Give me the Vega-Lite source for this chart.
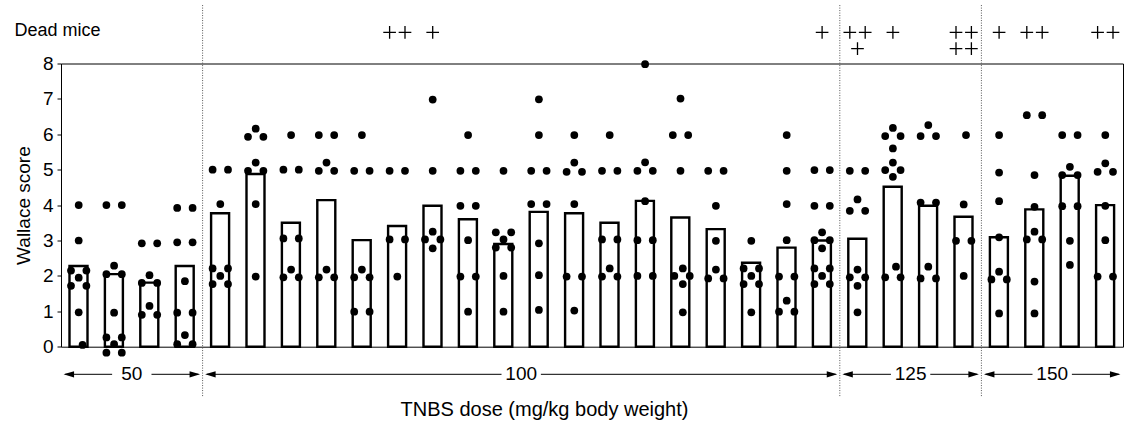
{
  "$schema": "https://vega.github.io/schema/vega-lite/v6.json",
  "width": 1062,
  "height": 283.2,
  "autosize": {"type": "none"},
  "padding": {"left": 61, "top": 63.5, "right": 7, "bottom": 76.3},
  "title": {"text": "Dead mice", "anchor": "start", "frame": "bounds", "fontSize": 18, "fontWeight": "normal", "font": "Liberation Sans", "offset": -35, "color": "black"},
  "config": {
    "view": {"stroke": "black", "strokeWidth": 1},
    "font": "Liberation Sans",
    "axisX": {"labels": false, "ticks": false, "domain": false, "grid": false, "titleFontSize": 20, "titleFontWeight": "normal", "titlePadding": 53, "titleX": 483, "titleColor": "black"},
    "axisY": {"values": [0, 1, 2, 3, 4, 5, 6, 7, 8], "domain": false, "grid": false, "tickSize": 4, "tickColor": "black", "labelFontSize": 19, "labelColor": "black", "labelPadding": 4, "titleFontSize": 19, "titleFontWeight": "normal", "titleColor": "black", "titlePadding": 9}
  },
  "datasets": {
    "bars": [
      {"bar": 1, "mean": 2.28}, {"bar": 2, "mean": 2.05}, {"bar": 3, "mean": 1.81}, {"bar": 4, "mean": 2.28},
      {"bar": 5, "mean": 3.77}, {"bar": 6, "mean": 4.88}, {"bar": 7, "mean": 3.5}, {"bar": 8, "mean": 4.14},
      {"bar": 9, "mean": 3.01}, {"bar": 10, "mean": 3.41}, {"bar": 11, "mean": 3.98}, {"bar": 12, "mean": 3.6},
      {"bar": 13, "mean": 2.9}, {"bar": 14, "mean": 3.81}, {"bar": 15, "mean": 3.77}, {"bar": 16, "mean": 3.5},
      {"bar": 17, "mean": 4.12}, {"bar": 18, "mean": 3.65}, {"bar": 19, "mean": 3.32}, {"bar": 20, "mean": 2.37},
      {"bar": 21, "mean": 2.8}, {"bar": 22, "mean": 3.0}, {"bar": 23, "mean": 3.05}, {"bar": 24, "mean": 4.52},
      {"bar": 25, "mean": 3.98}, {"bar": 26, "mean": 3.67}, {"bar": 27, "mean": 3.09}, {"bar": 28, "mean": 3.88},
      {"bar": 29, "mean": 4.83}, {"bar": 30, "mean": 4.0}
    ],
    "dots": [
      {"bar":1,"score":4,"slot":0},{"bar":1,"score":3,"slot":0},{"bar":1,"score":2.15,"slot":-1},{"bar":1,"score":2.15,"slot":1},{"bar":1,"score":1.95,"slot":0},{"bar":1,"score":1.72,"slot":-1},{"bar":1,"score":1.72,"slot":1},{"bar":1,"score":0.97,"slot":0},{"bar":1,"score":0.05,"slot":0.5},
      {"bar":2,"score":4,"slot":-1},{"bar":2,"score":4,"slot":1},{"bar":2,"score":2.29,"slot":0},{"bar":2,"score":2.05,"slot":-1},{"bar":2,"score":2.05,"slot":1},{"bar":2,"score":0.96,"slot":0},{"bar":2,"score":0.26,"slot":-1},{"bar":2,"score":0.26,"slot":1},{"bar":2,"score":0.07,"slot":0},{"bar":2,"score":-0.17,"slot":-1},{"bar":2,"score":-0.17,"slot":1},
      {"bar":3,"score":2.92,"slot":-1},{"bar":3,"score":2.92,"slot":1},{"bar":3,"score":2.02,"slot":0},{"bar":3,"score":1.8,"slot":-1},{"bar":3,"score":1.8,"slot":1},{"bar":3,"score":1.15,"slot":0},{"bar":3,"score":0.9,"slot":-1},{"bar":3,"score":0.9,"slot":1},
      {"bar":4,"score":3.92,"slot":-1},{"bar":4,"score":3.92,"slot":1},{"bar":4,"score":2.95,"slot":-1},{"bar":4,"score":2.95,"slot":1},{"bar":4,"score":1.85,"slot":0},{"bar":4,"score":0.96,"slot":-1},{"bar":4,"score":0.96,"slot":1},{"bar":4,"score":0.33,"slot":0},{"bar":4,"score":0.07,"slot":-1},{"bar":4,"score":0.07,"slot":1},
      {"bar":5,"score":5,"slot":-1},{"bar":5,"score":5,"slot":1},{"bar":5,"score":4.03,"slot":0},{"bar":5,"score":2.21,"slot":-1},{"bar":5,"score":2.21,"slot":1},{"bar":5,"score":2,"slot":0},{"bar":5,"score":1.77,"slot":-1},{"bar":5,"score":1.77,"slot":1},
      {"bar":6,"score":6.16,"slot":0},{"bar":6,"score":5.93,"slot":-1},{"bar":6,"score":5.93,"slot":1},{"bar":6,"score":5.2,"slot":0},{"bar":6,"score":4.97,"slot":-1},{"bar":6,"score":4.97,"slot":1},{"bar":6,"score":4.03,"slot":0},{"bar":6,"score":1.98,"slot":0},
      {"bar":7,"score":5.98,"slot":0},{"bar":7,"score":5,"slot":-1},{"bar":7,"score":5,"slot":1},{"bar":7,"score":3.06,"slot":-1},{"bar":7,"score":3.06,"slot":1},{"bar":7,"score":2.18,"slot":0},{"bar":7,"score":1.96,"slot":-1},{"bar":7,"score":1.96,"slot":1},
      {"bar":8,"score":5.98,"slot":-1},{"bar":8,"score":5.98,"slot":1},{"bar":8,"score":5.2,"slot":0},{"bar":8,"score":4.97,"slot":-1},{"bar":8,"score":4.97,"slot":1},{"bar":8,"score":2.18,"slot":0},{"bar":8,"score":1.96,"slot":-1},{"bar":8,"score":1.96,"slot":1},
      {"bar":9,"score":5.98,"slot":0},{"bar":9,"score":4.97,"slot":-1},{"bar":9,"score":4.97,"slot":1},{"bar":9,"score":2.18,"slot":0},{"bar":9,"score":1.96,"slot":-1},{"bar":9,"score":1.96,"slot":1},{"bar":9,"score":0.99,"slot":-1},{"bar":9,"score":0.99,"slot":1},
      {"bar":10,"score":4.97,"slot":-1},{"bar":10,"score":4.97,"slot":1},{"bar":10,"score":3.03,"slot":-1},{"bar":10,"score":3.03,"slot":1},{"bar":10,"score":1.98,"slot":0},
      {"bar":11,"score":6.98,"slot":0},{"bar":11,"score":4.97,"slot":0},{"bar":11,"score":3.25,"slot":0},{"bar":11,"score":3.03,"slot":-1},{"bar":11,"score":3.03,"slot":1},{"bar":11,"score":2.78,"slot":0},
      {"bar":12,"score":5.98,"slot":0},{"bar":12,"score":4.97,"slot":-1},{"bar":12,"score":4.97,"slot":1},{"bar":12,"score":3.98,"slot":-1},{"bar":12,"score":3.98,"slot":1},{"bar":12,"score":3.01,"slot":0},{"bar":12,"score":1.98,"slot":-1},{"bar":12,"score":1.98,"slot":1},{"bar":12,"score":0.99,"slot":0},
      {"bar":13,"score":4.97,"slot":0},{"bar":13,"score":3.23,"slot":-1},{"bar":13,"score":3.23,"slot":1},{"bar":13,"score":3.03,"slot":0},{"bar":13,"score":2.8,"slot":-1},{"bar":13,"score":2.8,"slot":1},{"bar":13,"score":2,"slot":0},{"bar":13,"score":0.99,"slot":0},
      {"bar":14,"score":6.99,"slot":0},{"bar":14,"score":5.98,"slot":0},{"bar":14,"score":4.97,"slot":-1},{"bar":14,"score":4.97,"slot":1},{"bar":14,"score":4.03,"slot":-1},{"bar":14,"score":4.03,"slot":1},{"bar":14,"score":2.92,"slot":0},{"bar":14,"score":2.02,"slot":0},{"bar":14,"score":1.04,"slot":0},
      {"bar":15,"score":5.98,"slot":0},{"bar":15,"score":5.2,"slot":0},{"bar":15,"score":4.94,"slot":-1},{"bar":15,"score":4.94,"slot":1},{"bar":15,"score":4.03,"slot":0},{"bar":15,"score":1.98,"slot":-1},{"bar":15,"score":1.98,"slot":1},{"bar":15,"score":1.02,"slot":0},
      {"bar":16,"score":5.98,"slot":0},{"bar":16,"score":4.97,"slot":-1},{"bar":16,"score":4.97,"slot":1},{"bar":16,"score":3.03,"slot":-1},{"bar":16,"score":3.03,"slot":1},{"bar":16,"score":2.21,"slot":0},{"bar":16,"score":1.98,"slot":-1},{"bar":16,"score":1.98,"slot":1},
      {"bar":17,"score":7.98,"slot":0},{"bar":17,"score":5.21,"slot":0},{"bar":17,"score":4.97,"slot":-1},{"bar":17,"score":4.97,"slot":1},{"bar":17,"score":4.11,"slot":0},{"bar":17,"score":3.01,"slot":-1},{"bar":17,"score":3.01,"slot":1},{"bar":17,"score":2,"slot":-1},{"bar":17,"score":2,"slot":1},
      {"bar":18,"score":7.01,"slot":0},{"bar":18,"score":5.98,"slot":-1},{"bar":18,"score":5.98,"slot":1},{"bar":18,"score":4.97,"slot":0},{"bar":18,"score":2.21,"slot":0.3},{"bar":18,"score":2,"slot":-0.8},{"bar":18,"score":2,"slot":1.2},{"bar":18,"score":1.77,"slot":0.3},{"bar":18,"score":0.97,"slot":0.3},
      {"bar":19,"score":4.97,"slot":-1},{"bar":19,"score":4.97,"slot":1},{"bar":19,"score":3.98,"slot":0},{"bar":19,"score":2.99,"slot":0},{"bar":19,"score":2.18,"slot":0},{"bar":19,"score":1.93,"slot":-1},{"bar":19,"score":1.93,"slot":1},
      {"bar":20,"score":2.99,"slot":0},{"bar":20,"score":2.21,"slot":-1},{"bar":20,"score":2.21,"slot":1},{"bar":20,"score":2,"slot":0},{"bar":20,"score":1.77,"slot":-1},{"bar":20,"score":1.77,"slot":1},{"bar":20,"score":0.97,"slot":0},
      {"bar":21,"score":5.98,"slot":0},{"bar":21,"score":4.97,"slot":0},{"bar":21,"score":4.03,"slot":0},{"bar":21,"score":3.01,"slot":0},{"bar":21,"score":1.98,"slot":-1},{"bar":21,"score":1.98,"slot":1},{"bar":21,"score":1.3,"slot":0},{"bar":21,"score":0.99,"slot":-1},{"bar":21,"score":0.99,"slot":1},
      {"bar":22,"score":4.99,"slot":-1},{"bar":22,"score":4.99,"slot":1},{"bar":22,"score":3.98,"slot":-1},{"bar":22,"score":3.98,"slot":1},{"bar":22,"score":3.23,"slot":0},{"bar":22,"score":3.01,"slot":-1},{"bar":22,"score":3.01,"slot":1},{"bar":22,"score":2.78,"slot":0},{"bar":22,"score":2.21,"slot":-1},{"bar":22,"score":2.21,"slot":1},{"bar":22,"score":2,"slot":0},{"bar":22,"score":1.77,"slot":-1},{"bar":22,"score":1.77,"slot":1},
      {"bar":23,"score":4.97,"slot":-1},{"bar":23,"score":4.97,"slot":1},{"bar":23,"score":4.16,"slot":0},{"bar":23,"score":3.84,"slot":-1},{"bar":23,"score":3.84,"slot":1},{"bar":23,"score":2.18,"slot":0},{"bar":23,"score":1.96,"slot":-1},{"bar":23,"score":1.96,"slot":1},{"bar":23,"score":1.72,"slot":0},{"bar":23,"score":0.97,"slot":0},
      {"bar":24,"score":6.18,"slot":0},{"bar":24,"score":5.95,"slot":-1},{"bar":24,"score":5.95,"slot":1},{"bar":24,"score":5.6,"slot":0},{"bar":24,"score":5.2,"slot":0},{"bar":24,"score":4.99,"slot":-1},{"bar":24,"score":4.99,"slot":1},{"bar":24,"score":4.8,"slot":0},{"bar":24,"score":2.26,"slot":0.4},{"bar":24,"score":1.96,"slot":-1},{"bar":24,"score":1.96,"slot":1},
      {"bar":25,"score":6.26,"slot":0},{"bar":25,"score":5.95,"slot":-1},{"bar":25,"score":5.95,"slot":1},{"bar":25,"score":4.07,"slot":-1},{"bar":25,"score":4.07,"slot":1},{"bar":25,"score":2.26,"slot":0},{"bar":25,"score":1.93,"slot":-1},{"bar":25,"score":1.93,"slot":1},
      {"bar":26,"score":5.98,"slot":0.3},{"bar":26,"score":4.02,"slot":0},{"bar":26,"score":2.99,"slot":-1},{"bar":26,"score":2.99,"slot":1},{"bar":26,"score":2,"slot":0},
      {"bar":27,"score":5.98,"slot":0},{"bar":27,"score":4.92,"slot":0},{"bar":27,"score":4.11,"slot":0},{"bar":27,"score":3.09,"slot":0},{"bar":27,"score":2.12,"slot":0},{"bar":27,"score":1.9,"slot":-1},{"bar":27,"score":1.9,"slot":1},{"bar":27,"score":0.94,"slot":0},
      {"bar":28,"score":6.54,"slot":-1},{"bar":28,"score":6.54,"slot":1},{"bar":28,"score":4.85,"slot":0},{"bar":28,"score":3.95,"slot":0},{"bar":28,"score":3.25,"slot":0},{"bar":28,"score":3.03,"slot":-1},{"bar":28,"score":3.03,"slot":1},{"bar":28,"score":1.84,"slot":0},{"bar":28,"score":0.94,"slot":0},
      {"bar":29,"score":5.98,"slot":-1},{"bar":29,"score":5.98,"slot":1},{"bar":29,"score":5.08,"slot":0},{"bar":29,"score":4.85,"slot":-1},{"bar":29,"score":4.85,"slot":1},{"bar":29,"score":3.97,"slot":-1},{"bar":29,"score":3.97,"slot":1},{"bar":29,"score":2.99,"slot":0},{"bar":29,"score":2.31,"slot":0},
      {"bar":30,"score":5.98,"slot":0},{"bar":30,"score":5.18,"slot":0},{"bar":30,"score":4.94,"slot":-1},{"bar":30,"score":4.94,"slot":1},{"bar":30,"score":3.98,"slot":0},{"bar":30,"score":3.01,"slot":0},{"bar":30,"score":1.98,"slot":-1},{"bar":30,"score":1.98,"slot":1}
    ],
    "dead": [
      {"bar": 10, "row": 1, "slot": -1}, {"bar": 10, "row": 1, "slot": 1},
      {"bar": 11, "row": 1, "slot": 0},
      {"bar": 22, "row": 1, "slot": 0},
      {"bar": 23, "row": 1, "slot": -1}, {"bar": 23, "row": 1, "slot": 1}, {"bar": 23, "row": 2, "slot": 0},
      {"bar": 24, "row": 1, "slot": 0},
      {"bar": 26, "row": 1, "slot": -1}, {"bar": 26, "row": 1, "slot": 1}, {"bar": 26, "row": 2, "slot": -1}, {"bar": 26, "row": 2, "slot": 1},
      {"bar": 27, "row": 1, "slot": 0},
      {"bar": 28, "row": 1, "slot": -1}, {"bar": 28, "row": 1, "slot": 1},
      {"bar": 30, "row": 1, "slot": -1}, {"bar": 30, "row": 1, "slot": 1}
    ],
    "groups": [
      {"dose": "50", "first": 1, "last": 4, "mid": 2},
      {"dose": "100", "first": 5, "last": 22, "mid": 13},
      {"dose": "125", "first": 23, "last": 26, "mid": 24},
      {"dose": "150", "first": 27, "last": 30, "mid": 28}
    ]
  },
  "layer": [
    {
      "data": {"name": "bars"},
      "mark": {"type": "bar", "fill": "white", "stroke": "black", "strokeWidth": 2.4, "width": {"band": 0.52}, "clip": false},
      "encoding": {
        "x": {"field": "bar", "type": "ordinal", "title": "TNBS dose (mg/kg body weight)", "scale": {"type": "band", "domain": [1,2,3,4,5,6,7,8,9,10,11,12,13,14,15,16,17,18,19,20,21,22,23,24,25,26,27,28,29,30], "paddingInner": 0, "paddingOuter": 0}},
        "y": {"field": "mean", "type": "quantitative", "title": "Wallace score", "scale": {"domain": [0, 8], "nice": false, "zero": false}}
      }
    },
    {
      "data": {"name": "dots"},
      "mark": {"type": "circle", "size": 60, "color": "black", "opacity": 1, "clip": false},
      "encoding": {
        "x": {"field": "bar", "type": "ordinal", "title": "TNBS dose (mg/kg body weight)", "scale": {"type": "band", "domain": [1,2,3,4,5,6,7,8,9,10,11,12,13,14,15,16,17,18,19,20,21,22,23,24,25,26,27,28,29,30], "paddingInner": 0, "paddingOuter": 0}},
        "xOffset": {"field": "slot", "type": "quantitative", "scale": {"domain": [-2.3, 2.3], "nice": false, "zero": false}},
        "y": {"field": "score", "type": "quantitative", "title": "Wallace score"}
      }
    },
    {
      "data": {"name": "groups"},
      "transform": [{"filter": "datum.first > 1"}],
      "mark": {"type": "rule", "stroke": "#555", "strokeWidth": 1, "strokeDash": [1, 1.5], "clip": false},
      "encoding": {
        "x": {"field": "first", "type": "ordinal", "bandPosition": 0, "title": "TNBS dose (mg/kg body weight)"},
        "y": {"datum": 9.65},
        "y2": {"datum": -1.42}
      }
    },
    {
      "data": {"name": "groups"},
      "mark": {"type": "rule", "stroke": "black", "strokeWidth": 1, "clip": false},
      "encoding": {
        "x": {"field": "first", "type": "ordinal", "bandPosition": 0.12, "title": "TNBS dose (mg/kg body weight)"},
        "x2": {"field": "last", "bandPosition": 0.88},
        "y": {"datum": -0.78}
      }
    },
    {
      "data": {"name": "groups"},
      "mark": {"type": "point", "shape": "M-1,0L1,-0.6L1,0.6Z", "filled": true, "color": "black", "opacity": 1, "size": 110, "clip": false},
      "encoding": {
        "x": {"field": "first", "type": "ordinal", "bandPosition": 0.22, "title": "TNBS dose (mg/kg body weight)"},
        "y": {"datum": -0.78}
      }
    },
    {
      "data": {"name": "groups"},
      "mark": {"type": "point", "shape": "M1,0L-1,-0.6L-1,0.6Z", "filled": true, "color": "black", "opacity": 1, "size": 110, "clip": false},
      "encoding": {
        "x": {"field": "last", "type": "ordinal", "bandPosition": 0.78, "title": "TNBS dose (mg/kg body weight)"},
        "y": {"datum": -0.78}
      }
    },
    {
      "data": {"name": "groups"},
      "mark": {"type": "point", "shape": "M-1,-0.45H1V0.45H-1Z", "filled": true, "color": "white", "opacity": 1, "size": 1550, "clip": false},
      "encoding": {
        "x": {"field": "mid", "type": "ordinal", "bandPosition": 1, "title": "TNBS dose (mg/kg body weight)"},
        "y": {"datum": -0.78}
      }
    },
    {
      "data": {"name": "groups"},
      "mark": {"type": "text", "fontSize": 19, "color": "black", "align": "center", "baseline": "middle", "clip": false},
      "encoding": {
        "x": {"field": "mid", "type": "ordinal", "bandPosition": 1, "title": "TNBS dose (mg/kg body weight)"},
        "y": {"datum": -0.78},
        "text": {"field": "dose"}
      }
    },
    {
      "data": {"name": "dead"},
      "transform": [{"filter": "datum.row == 1"}],
      "mark": {"type": "point", "shape": "M-1,0H1M0,-1V1", "filled": false, "color": "black", "opacity": 1, "strokeWidth": 1.3, "size": 160, "clip": false},
      "encoding": {
        "x": {"field": "bar", "type": "ordinal", "title": "TNBS dose (mg/kg body weight)"},
        "xOffset": {"field": "slot", "type": "quantitative"},
        "y": {"datum": 8.88}
      }
    },
    {
      "data": {"name": "dead"},
      "transform": [{"filter": "datum.row == 2"}],
      "mark": {"type": "point", "shape": "M-1,0H1M0,-1V1", "filled": false, "color": "black", "opacity": 1, "strokeWidth": 1.3, "size": 160, "clip": false},
      "encoding": {
        "x": {"field": "bar", "type": "ordinal", "title": "TNBS dose (mg/kg body weight)"},
        "xOffset": {"field": "slot", "type": "quantitative"},
        "y": {"datum": 8.42}
      }
    }
  ]
}
